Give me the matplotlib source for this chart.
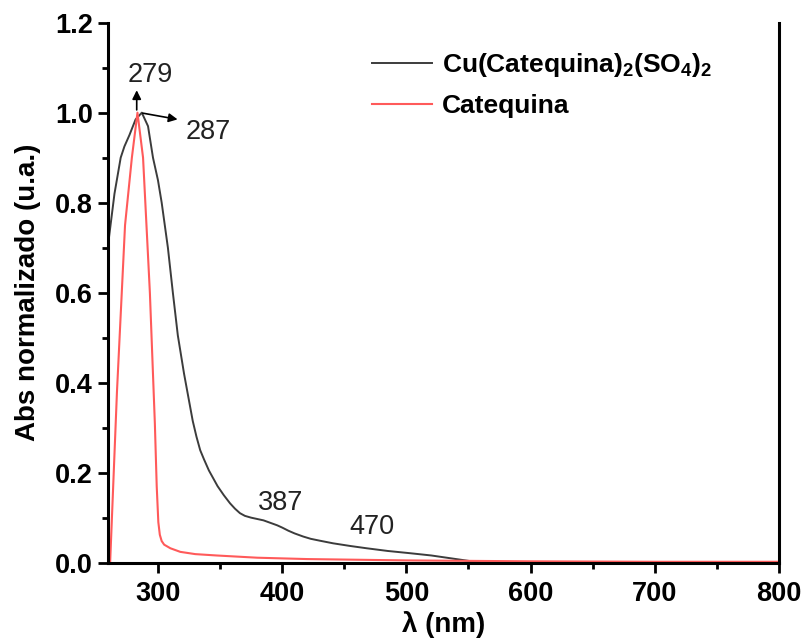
import matplotlib
matplotlib.use('Agg')
import matplotlib.pyplot as plt
from matplotlib.ticker import MultipleLocator, FormatStrFormatter

plt.rcParams['font.family'] = ['Liberation Sans', 'DejaVu Sans']
plt.rcParams['mathtext.fontset'] = 'custom'
plt.rcParams['mathtext.rm'] = 'Liberation Sans:bold'
plt.rcParams['mathtext.bf'] = 'Liberation Sans:bold'

# Cu(Catequina)2(SO4)2 spectrum
wl_complex = [260, 265, 270, 273, 277, 282, 287, 292, 296, 300, 303, 308, 312, 316,
              321, 325, 328, 331, 334, 337, 341, 345, 348, 353, 358, 362, 366, 370,
              375, 380, 385, 390, 396, 400, 405, 410, 417, 423, 430, 441, 455, 468,
              485, 503, 520, 535, 545, 555, 600, 700, 800]
abs_complex = [0.71, 0.82, 0.90, 0.925, 0.95, 0.985, 1.0, 0.97, 0.90, 0.85, 0.80, 0.70,
               0.60, 0.505, 0.42, 0.36, 0.315, 0.28, 0.25, 0.23, 0.205, 0.185, 0.17,
               0.15, 0.132, 0.12, 0.11, 0.104, 0.10, 0.097, 0.094, 0.089, 0.083, 0.078,
               0.071, 0.065, 0.058, 0.053, 0.049, 0.043, 0.037, 0.032, 0.026, 0.021,
               0.016, 0.01, 0.006, 0.002, 0.001, 0.001, 0.001]

# Catequina spectrum
wl_cat = [261.5, 267, 273.5, 279, 283.5, 288, 293.5, 297.5, 299, 300.3, 301.5, 303,
          305, 310, 318, 330, 347, 380, 420, 500, 600, 700, 800]
abs_cat = [0.0, 0.38, 0.75, 0.90, 1.0, 0.90, 0.60, 0.31, 0.17, 0.09, 0.062, 0.048,
           0.04, 0.032, 0.024, 0.019, 0.016, 0.011, 0.008, 0.005, 0.003, 0.002, 0.002]

# peak labels: (text, x, y)
peaks = [('279', 293.7, 1.084), ('287', 340.6, 0.958), ('387', 398.4, 0.132), ('470', 472.4, 0.08)]

fig = plt.figure(figsize=(8.05, 6.44), dpi=100)
ax = fig.add_axes([0.1345, 0.1263, 0.8332, 0.8385])

ax.plot(wl_complex, abs_complex, color='#3c3c3c', lw=1.4,
        label='Cu(Catequina)$_{\\mathrm{2}}$(SO$_{\\mathrm{4}}$)$_{\\mathrm{2}}$')
ax.plot(wl_cat, abs_cat, color='#ff5a5a', lw=1.5, label='Catequina')

ax.set_xlim(260, 800)
ax.set_ylim(0, 1.2)
ax.xaxis.set_major_locator(MultipleLocator(100))
ax.xaxis.set_minor_locator(MultipleLocator(50))
ax.yaxis.set_major_locator(MultipleLocator(0.2))
ax.yaxis.set_minor_locator(MultipleLocator(0.1))
ax.yaxis.set_major_formatter(FormatStrFormatter('%.1f'))

ax.spines['top'].set_visible(False)
for s in ['left', 'bottom', 'right']:
    ax.spines[s].set_linewidth(2.2)
ax.tick_params(which='major', direction='out', length=7, width=2, labelsize=19.5, pad=4)
ax.tick_params(axis='x', which='major', pad=6)
ax.tick_params(which='minor', direction='out', length=4, width=2)
for lab in ax.get_xticklabels() + ax.get_yticklabels():
    lab.set_fontweight('bold')

ax.set_xlabel('λ (nm)', fontsize=20, fontweight='bold', labelpad=3)
ax.set_ylabel('Abs normalizado (u.a.)', fontsize=20, fontweight='bold', labelpad=10)

# arrows at the main peaks
ax.annotate('', xy=(282.9, 1.056), xytext=(282.9, 1.0),
            arrowprops=dict(arrowstyle='-|>', color='black', lw=1.2, mutation_scale=13))
ax.annotate('', xy=(318, 0.984), xytext=(285.6, 1.0),
            arrowprops=dict(arrowstyle='-|>', color='black', lw=1.2, mutation_scale=13))
for txt, x, y in peaks:
    ax.text(x, y, txt, fontsize=19.5, ha='center', va='center', color='#222222')

ax.legend(loc='upper left', bbox_to_anchor=(0.3575, 0.992), frameon=False,
          handlelength=2.27, handletextpad=0.4, labelspacing=0.59,
          prop={'weight': 'bold', 'size': 19})

fig.savefig('out.png', dpi=100)
